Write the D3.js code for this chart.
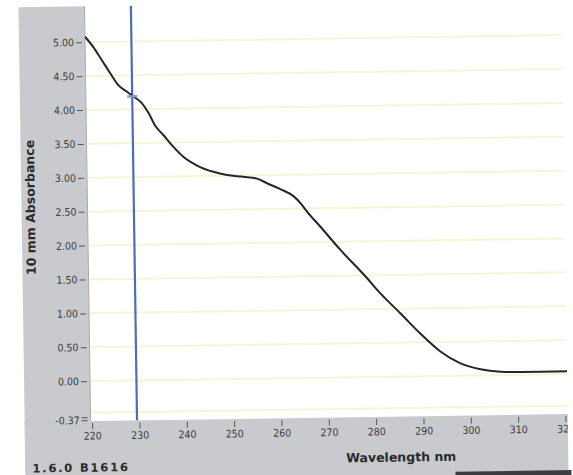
<!DOCTYPE html>
<html lang="en">
  <head>
    <meta charset="utf-8">
    <title>10 mm Absorbance spectrum</title>
    <script src="https://cdnjs.cloudflare.com/ajax/libs/d3/7.8.5/d3.min.js"></script>
    <style>
      body { margin: 0; background: #fff; }
      .tick text {
        font-family: "DejaVu Sans Condensed", "DejaVu Sans", sans-serif;
        font-size: 10.5px;
        fill: #3c3c3c;
      }
      .tick line { stroke: #555; }
      .axisText {
        font-family: "DejaVu Sans", sans-serif;
        font-weight: bold;
        fill: #2a2a2a;
      }
    </style>
  </head>
  <body>
    <div class="chart"></div>
    <script>

      var svgWidth = 573;
      var svgHeight = 475;

      // Spectrum
      var wavelengths = [219.7, 221.4, 223.2, 224.9, 226.6, 228.4, 229.7, 231.5, 232.9, 234.2,
        236.0, 238.0, 240.1, 242.9, 246.4, 249.3, 252.7, 255.6, 257.7, 260.5,
        263.3, 264.7, 266.1, 268.8, 273.0, 278.5, 281.3, 285.5, 289.6, 293.8,
        298.0, 302.2, 306.4, 310.7, 314.9, 320.8];
      var absorbance = [5.08, 4.93, 4.73, 4.54, 4.36, 4.26, 4.19, 4.09, 3.94, 3.76,
        3.61, 3.44, 3.29, 3.16, 3.06, 3.01, 2.98, 2.95, 2.88, 2.79,
        2.68, 2.58, 2.45, 2.23, 1.88, 1.46, 1.23, 0.93, 0.63, 0.36,
        0.18, 0.09, 0.05, 0.04, 0.04, 0.04];

      var xTickValues = [220, 230, 240, 250, 260, 270, 280, 290, 300, 310, 320];
      var yTickValues = [-0.37, 0, 0.5, 1, 1.5, 2, 2.5, 3, 3.5, 4, 4.5, 5];
      var yTickLabels = ["-0.37", "0.00", "0.50", "1.00", "1.50", "2.00", "2.50", "3.00", "3.50", "4.00", "4.50", "5.00"];
      var gridValues = [-0.3, 0, 0.5, 1, 1.5, 2, 2.5, 3, 3.5, 4, 4.5, 5];

      var cursorWavelength = 229.5;
      var cursorAbsorbance = 4.19;
      var footerText = "1.6.0 B1616";

      // plot box (the scan is slightly rotated, the whole group gets turned below)
      var plot = { left: 88, right: 565, top: 3, bottom: 418 };

      var svg = d3.select(".chart")
        .append("svg")
        .attr("width", svgWidth)
        .attr("height", svgHeight);

      var chartGroup = svg.append("g")
        .attr("transform", "rotate(-0.85, 300, 240)");

      // Step 1: scales
      // ==============================
      var xLinearScale = d3.scaleLinear()
        .domain([220, 320])
        .range([89.4, 562.8]);

      // bottom tick (-0.37) sits on the frame edge, so the scale bends there
      var yLinearScale = d3.scaleLinear()
        .domain([-0.37, 0, 5])
        .range([417, 378, 39]);

      // Step 2: grey panels
      // ==============================
      chartGroup.append("rect")
        .attr("x", 22).attr("y", plot.top)
        .attr("width", plot.left - 22).attr("height", 485)
        .attr("fill", "#c8cacd");

      chartGroup.append("rect")
        .attr("x", 22).attr("y", plot.bottom)
        .attr("width", plot.right - 22).attr("height", 70)
        .attr("fill", "#c8cacd");

      chartGroup.append("rect")
        .attr("x", 452).attr("y", 474)
        .attr("width", 116).attr("height", 10)
        .attr("fill", "#3b3d40");

      chartGroup.append("line")
        .attr("x1", plot.left).attr("x2", plot.left)
        .attr("y1", plot.top).attr("y2", plot.bottom)
        .attr("stroke", "#a9abae")
        .attr("stroke-width", 1);

      // Step 3: grid lines
      // ==============================
      chartGroup.append("g")
        .selectAll("line")
        .data(gridValues)
        .enter()
        .append("line")
        .attr("x1", plot.left + 1)
        .attr("x2", plot.right)
        .attr("y1", d => yLinearScale(d))
        .attr("y2", d => yLinearScale(d))
        .attr("stroke", "#f5f5d8")
        .attr("stroke-width", 2);

      // Step 4: axes
      // ==============================
      var leftAxis = d3.axisLeft(yLinearScale)
        .tickValues(yTickValues)
        .tickFormat((d, i) => yTickLabels[i])
        .tickSize(6)
        .tickPadding(2);

      var yAxisGroup = chartGroup.append("g")
        .attr("transform", "translate(85, 0)")
        .call(leftAxis);
      yAxisGroup.select(".domain").remove();
      // double tick at the bottom value
      yAxisGroup.selectAll(".tick")
        .filter(d => d === -0.37)
        .append("line")
        .attr("x2", -6)
        .attr("y1", -3).attr("y2", -3)
        .attr("stroke", "#555");

      chartGroup.append("clipPath")
        .attr("id", "band-clip")
        .append("rect")
        .attr("x", 0).attr("y", plot.bottom)
        .attr("width", plot.right).attr("height", 70);

      var bottomAxis = d3.axisBottom(xLinearScale)
        .tickValues(xTickValues)
        .tickFormat(d3.format("d"))
        .tickSize(6)
        .tickPadding(3);

      var xAxisGroup = chartGroup.append("g")
        .attr("clip-path", "url(#band-clip)")
        .append("g")
        .attr("transform", `translate(0, ${plot.bottom + 2})`)
        .call(bottomAxis);
      xAxisGroup.select(".domain").remove();

      // Step 5: spectrum line and cursor
      // ==============================
      chartGroup.append("clipPath")
        .attr("id", "plot-clip")
        .append("rect")
        .attr("x", plot.left).attr("y", plot.top)
        .attr("width", plot.right - plot.left).attr("height", plot.bottom - plot.top);

      var plotGroup = chartGroup.append("g")
        .attr("clip-path", "url(#plot-clip)");

      var spectrumLine = d3.line()
        .x(d => xLinearScale(d[0]))
        .y(d => yLinearScale(d[1]))
        .curve(d3.curveMonotoneX);

      plotGroup.append("line")
        .attr("x1", xLinearScale(cursorWavelength))
        .attr("x2", xLinearScale(cursorWavelength))
        .attr("y1", plot.top)
        .attr("y2", plot.bottom)
        .attr("stroke", "#4a6fb6")
        .attr("stroke-width", 2.2);

      plotGroup.append("path")
        .datum(d3.zip(wavelengths, absorbance))
        .attr("d", spectrumLine)
        .attr("fill", "none")
        .attr("stroke", "#262626")
        .attr("stroke-width", 2);

      var cx = xLinearScale(cursorWavelength);
      var cy = yLinearScale(cursorAbsorbance);
      plotGroup.append("line")
        .attr("x1", cx - 5).attr("x2", cx + 5)
        .attr("y1", cy).attr("y2", cy)
        .attr("stroke", "#7f9bd4")
        .attr("stroke-width", 2.5);

      // Step 6: labels
      // ==============================
      chartGroup.append("text")
        .attr("transform", "translate(31, 203.5) rotate(-90)")
        .attr("dy", "0.35em")
        .attr("text-anchor", "middle")
        .attr("class", "axisText")
        .style("font-size", "12.5px")
        .text("10 mm Absorbance");

      chartGroup.append("text")
        .attr("x", 398)
        .attr("y", 463)
        .attr("text-anchor", "middle")
        .attr("class", "axisText")
        .style("font-size", "12.5px")
        .text("Wavelength nm");

      chartGroup.append("text")
        .attr("x", 29)
        .attr("y", 468.5)
        .attr("class", "axisText")
        .style("font-size", "11.5px")
        .style("letter-spacing", "1.8px")
        .text(footerText);
    </script>
  </body>
</html>
